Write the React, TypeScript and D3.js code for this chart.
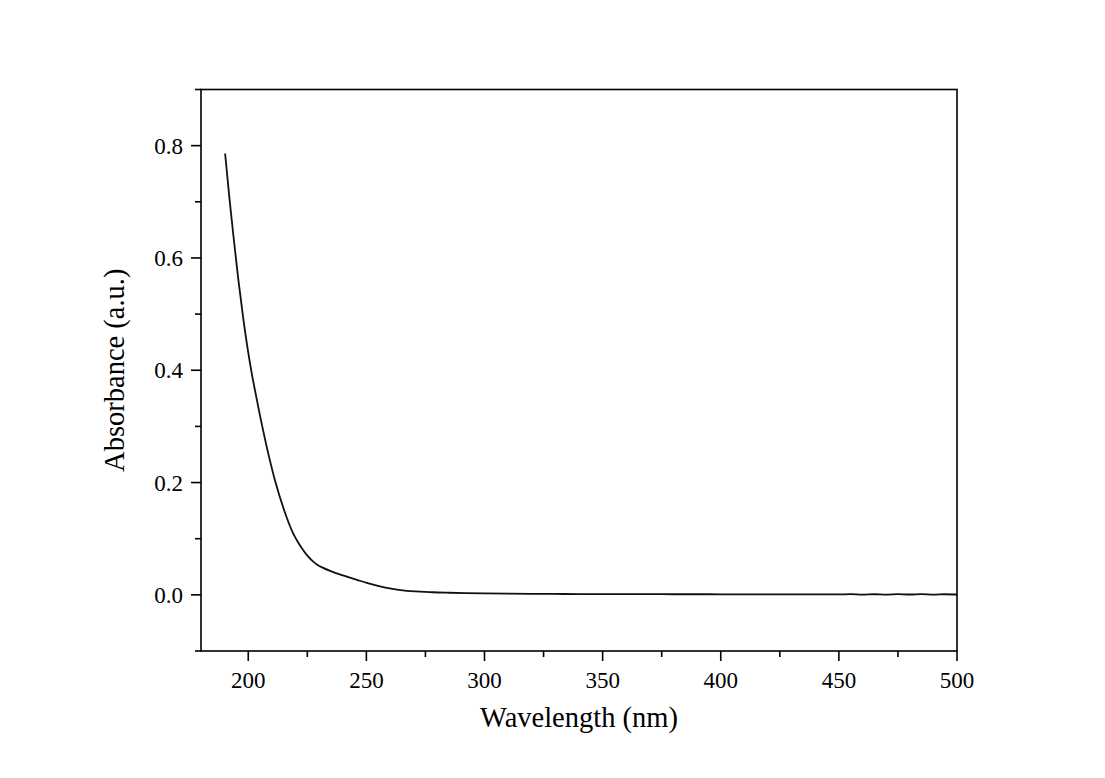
import React from "react";
import * as d3 from "d3";

const wavelengths = [190.2, 191.9, 193.6, 195.7, 197.8, 199.9, 201.5, 203.4, 204.7, 207.8, 211.3, 215.6, 219.0, 220.5, 223.2, 225.4, 227.4, 229.5, 231.7, 236, 241.7, 246, 250.2, 254.5, 258.6, 263, 267.1, 272.7, 278, 285, 292, 300, 310, 320, 330, 340, 350, 360, 370, 380, 390, 400, 410, 420, 430, 440, 450, 455, 460, 465, 470, 475, 480, 485, 490, 495, 500];
const absorbance = [0.786, 0.712, 0.644, 0.565, 0.495, 0.434, 0.394, 0.3525, 0.325, 0.264, 0.204, 0.1458, 0.1095, 0.0978, 0.08, 0.068, 0.0595, 0.0528, 0.048, 0.0405, 0.0325, 0.0268, 0.0213, 0.0165, 0.0124, 0.0093, 0.0071, 0.0059, 0.0046, 0.0037, 0.0031, 0.0026, 0.0021, 0.0018, 0.0016, 0.0014, 0.0013, 0.0012, 0.0012, 0.0011, 0.0011, 0.001, 0.001, 0.001, 0.0009, 0.0009, 0.0008, 0.0012, 0.0005, 0.0011, 0.0004, 0.0012, 0.0006, 0.0013, 0.0005, 0.0011, 0.0006];

const xMajorTicks = [200, 250, 300, 350, 400, 450, 500];
const xMinorTicks = [225, 275, 325, 375, 425, 475];
const yMajorTicks = [0.0, 0.2, 0.4, 0.6, 0.8];
const yMinorTicks = [-0.1, 0.1, 0.3, 0.5, 0.7, 0.9];

const xTitle = "Wavelength (nm)";
const yTitle = "Absorbance (a.u.)";

export default function App() {
  const W = 1105, H = 778;
  const left = 201, right = 957, top = 89.5, bottom = 651;
  const x = d3.scaleLinear().domain([180, 500]).range([left, right]);
  const y = d3.scaleLinear().domain([-0.1, 0.9]).range([bottom, top]);
  const line = d3.line<number>()
    .x((_, i) => x(wavelengths[i]))
    .y((d) => y(d))
    .curve(d3.curveMonotoneX);
  const font = "'Liberation Serif', 'Times New Roman', serif";
  const stroke = "#000";
  return (
    <svg width={W} height={H} style={{ position: "absolute", left: 0, top: 0, background: "#fff" }}>
      <rect x={0} y={0} width={W} height={H} fill="#fff" />
      <path d={line(absorbance) || ""} fill="none" stroke="#111" strokeWidth={1.8} strokeLinejoin="round" />
      <rect x={left} y={top} width={right - left} height={bottom - top} fill="none" stroke={stroke} strokeWidth={1.6} />
      {xMajorTicks.map((t) => (
        <g key={"xM" + t}>
          <line x1={x(t)} x2={x(t)} y1={bottom} y2={bottom + 10} stroke={stroke} strokeWidth={1.6} />
          <text x={x(t)} y={688} textAnchor="middle" fontFamily={font} fontSize={23} fill="#000">{t}</text>
        </g>
      ))}
      {xMinorTicks.map((t) => (
        <line key={"xm" + t} x1={x(t)} x2={x(t)} y1={bottom} y2={bottom + 6} stroke={stroke} strokeWidth={1.6} />
      ))}
      {yMajorTicks.map((t) => (
        <g key={"yM" + t}>
          <line x1={left} x2={left - 10} y1={y(t)} y2={y(t)} stroke={stroke} strokeWidth={1.6} />
          <text x={183} y={y(t)} dy="0.35em" textAnchor="end" fontFamily={font} fontSize={23} fill="#000">{t.toFixed(1)}</text>
        </g>
      ))}
      {yMinorTicks.map((t) => (
        <line key={"ym" + t} x1={left} x2={left - 6} y1={y(t)} y2={y(t)} stroke={stroke} strokeWidth={1.6} />
      ))}
      <text x={(left + right) / 2} y={727} textAnchor="middle" fontFamily={font} fontSize={28.5} fill="#000">{xTitle}</text>
      <text transform={`translate(124, ${(top + bottom) / 2}) rotate(-90)`} textAnchor="middle" fontFamily={font} fontSize={28.5} fill="#000">{yTitle}</text>
    </svg>
  );
}
